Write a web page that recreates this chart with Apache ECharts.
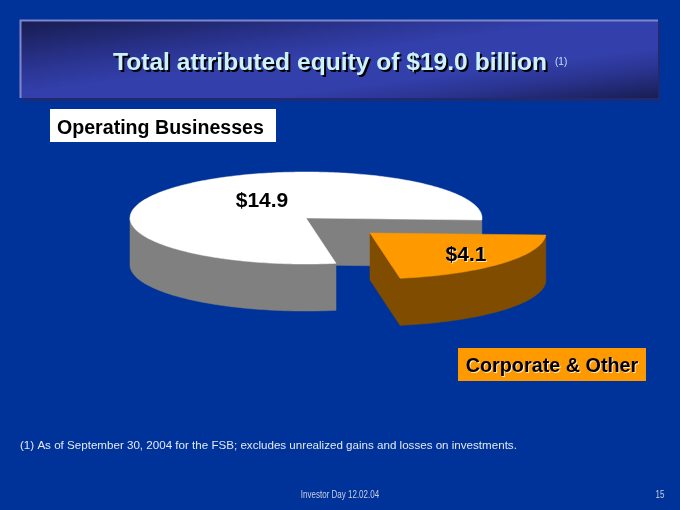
<!DOCTYPE html>
<html>
<head>
<meta charset="utf-8">
<style>html,body{margin:0;padding:0;background:#003399}#c{width:680px;height:510px}</style>
<script src="https://cdn.jsdelivr.net/npm/echarts@6/dist/echarts.min.js"></script>
</head>
<body>
<div id="c"></div>
<script>
var categories = ['Operating Businesses', 'Corporate & Other'];
var values = [14.9, 4.1];
var titleText = 'Total attributed equity of $19.0 billion';
var footnote = '(1) As of September 30, 2004 for the FSB; excludes unrealized gains and losses on investments.';
var footer = 'Investor Day 12.02.04';
var pageNumber = '15';

var FONT = '"Liberation Sans", Arial, sans-serif';
var pie = {cx: 306, cy: 218, rx: 176, ry: 46, depth: 47, startDeg: 2.5};
var looks = [
  {top: '#ffffff', side: '#808080', dx: 0, dy: 0, labelDx: -44, labelDy: -17},
  {top: '#ff9900', side: '#804c00', dx: 64, dy: 15, labelDx: 96, labelDy: 22}
];
var total = values.reduce(function (a, b) { return a + b; }, 0);

function pt(deg, ox, oy, drop) {
  var r = deg * Math.PI / 180;
  return [ox + pie.rx * Math.cos(r), oy + pie.ry * Math.sin(r) + (drop || 0)];
}
function arc(a, b, ox, oy, drop) {
  var out = [], n = Math.max(2, Math.ceil(Math.abs(b - a)));
  for (var i = 0; i <= n; i++) out.push(pt(a + (b - a) * i / n, ox, oy, drop));
  return out;
}
function poly(points, fill) {
  return {type: 'polygon', shape: {points: points}, style: {fill: fill, stroke: fill, lineWidth: 0.5}};
}
// Slices run clockwise from the start angle: the small slice first, the large one after it.
function renderSlice(params, api) {
  var i = params.dataIndex, look = looks[i], v = api.value(0);
  var ox = pie.cx + look.dx, oy = pie.cy + look.dy, kids = [];
  var a0, a1, sweep = v / total * 360;
  if (i === 1) { a0 = pie.startDeg; a1 = a0 + sweep; }
  else { a0 = pie.startDeg + values[1] / total * 360; a1 = a0 + sweep; }
  var c = [ox, oy], cLow = [ox, oy + pie.depth];
  var e = pt(a1, ox, oy), eLow = pt(a1, ox, oy, pie.depth);
  kids.push(poly([c, e, eLow, cLow], look.side));
  var wa = Math.max(a0, 0), wb = Math.min(a1, 180);
  var wall = arc(wa, wb, ox, oy, 0).concat(arc(wb, wa, ox, oy, pie.depth));
  kids.push(poly(wall, look.side));
  kids.push(poly([c].concat(arc(a0, a1, ox, oy, 0)), look.top));
  var textStyle = {
    x: ox + look.labelDx, y: oy + look.labelDy, text: '$' + v.toFixed(1),
    fill: '#000', font: 'bold 21px ' + FONT, align: 'center', verticalAlign: 'middle'
  };
  if (i === 1) {
    textStyle.textShadowColor = 'rgba(255,255,255,0.8)';
    textStyle.textShadowOffsetX = 1;
    textStyle.textShadowOffsetY = 1;
    textStyle.textShadowBlur = 0.5;
  }
  kids.push({type: 'text', style: textStyle});
  return {type: 'group', children: kids};
}

var chart = echarts.init(document.getElementById('c'), null, {renderer: 'canvas'});
chart.setOption({
  animation: false,
  backgroundColor: '#003399',
  series: [{
    type: 'custom',
    coordinateSystem: 'none',
    silent: true,
    renderItem: renderSlice,
    data: values.map(function (v, i) { return {name: categories[i], value: [v]}; })
  }],
  graphic: [
    {type: 'rect', z: 1, shape: {x: 22, y: 22, width: 638, height: 79}, style: {fill: '#1f2a70'}},
    {type: 'rect', z: 2, shape: {x: 20, y: 20, width: 638, height: 78}, style: {
      fill: {type: 'linear', global: true, x: 329, y: -19, x2: 349, y2: 139, colorStops: [
        {offset: 0, color: '#171c50'}, {offset: 0.3, color: '#2a3490'}, {offset: 0.45, color: '#333faa'},
        {offset: 0.68, color: '#333faa'}, {offset: 0.8, color: '#2a3490'}, {offset: 1, color: '#171c50'}
      ]}
    }},
    {type: 'polyline', z: 3, shape: {points: [[20.5, 98], [20.5, 20.5], [658, 20.5]]}, style: {stroke: '#7f86cc', lineWidth: 2, fill: 'none'}},
    {type: 'text', z: 4, style: {x: 330, y: 63, text: titleText, align: 'center', verticalAlign: 'middle', font: 'bold 24.6px ' + FONT, fill: '#ccf2ff', textShadowColor: '#000', textShadowOffsetX: 2, textShadowOffsetY: 2, textShadowBlur: 0.5}},
    {type: 'text', z: 4, style: {x: 555, y: 62, text: '(1)', align: 'left', verticalAlign: 'middle', font: '10px ' + FONT, fill: '#c4e0f0'}},

    {type: 'rect', z: 2, shape: {x: 50, y: 109, width: 226, height: 33}, style: {fill: '#ffffff'}},
    {type: 'text', z: 4, style: {x: 57, y: 129, text: categories[0], align: 'left', verticalAlign: 'middle', font: 'bold 19.6px ' + FONT, fill: '#000'}},

    {type: 'rect', z: 2, shape: {x: 458, y: 348, width: 188, height: 33}, style: {fill: '#ff9900'}},
    {type: 'text', z: 4, style: {x: 552, y: 367, text: categories[1], align: 'center', verticalAlign: 'middle', font: 'bold 19.8px ' + FONT, fill: '#000', textShadowColor: 'rgba(255,255,255,0.8)', textShadowOffsetX: 1, textShadowOffsetY: 1, textShadowBlur: 0.5}},

    {type: 'text', z: 4, style: {x: 20, y: 446, text: footnote, align: 'left', verticalAlign: 'middle', font: '11.6px ' + FONT, fill: '#e3e8f2'}},
    {type: 'text', z: 4, x: 340, y: 495, scaleX: 0.8, style: {x: 0, y: 0, text: footer, align: 'center', verticalAlign: 'middle', font: '10px ' + FONT, fill: '#c8d0e4'}},
    {type: 'text', z: 4, x: 660, y: 495, scaleX: 0.8, style: {x: 0, y: 0, text: pageNumber, align: 'center', verticalAlign: 'middle', font: '10px ' + FONT, fill: '#c8d0e4'}}
  ]
});
</script>
</body>
</html>
